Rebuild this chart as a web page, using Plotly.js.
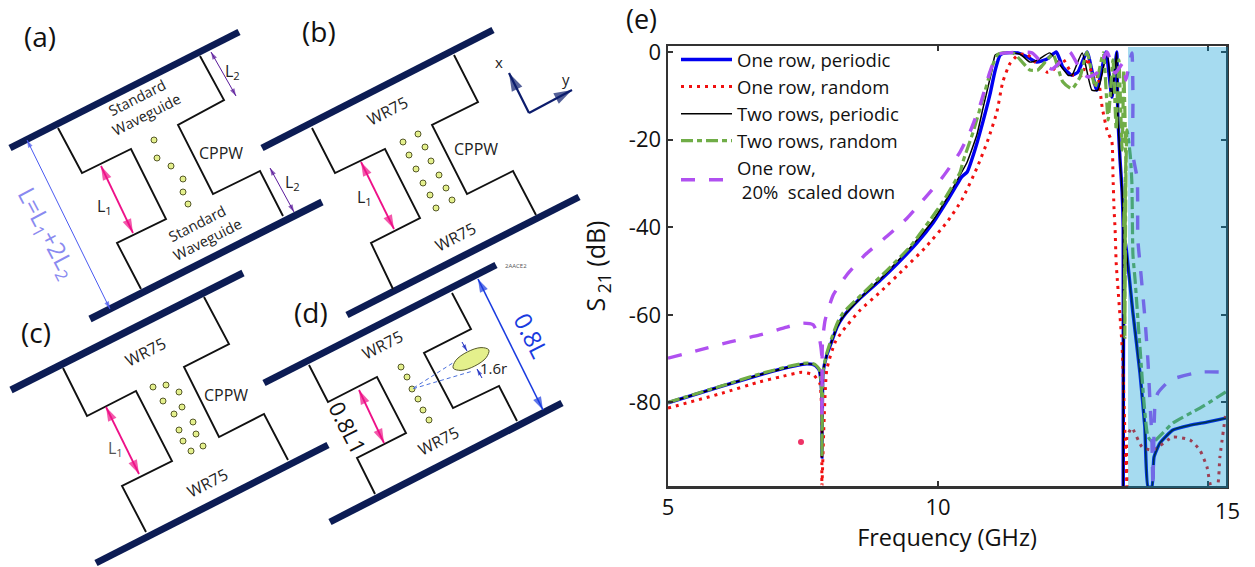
<!DOCTYPE html>
<html>
<head>
<meta charset="utf-8">
<script src="https://cdn.plot.ly/plotly-3.0.1.min.js"></script>
<style>html,body{margin:0;padding:0;background:#fff;overflow:hidden}</style>
</head>
<body>
<div id="chart" style="width:1255px;height:567px"></div>
<script>
// ---------- S21 curves (frequency in GHz, S21 in dB) ----------
const seriesNames = ["One row, periodic","One row, random","Two rows, periodic","Two rows, random","One row,<br> 20%  scaled down"];

const blueF = [5,6,6.70,7.26,7.57,7.72,7.80,7.83,7.85,7.85,7.86,7.87,7.94,8.04,8.13,8.24,8.56,8.93,9.24,9.61,9.91,10.17,10.44,10.54,10.69,10.83,10.96,11.06,11.15,11.24,11.48,11.65,11.83,12.02,12.19,12.31,12.48,12.59,12.76,12.94,13.11,13.22,13.31,13.33,13.37,13.41,13.43,13.43,13.46,13.61,13.74,13.83,13.89,13.96,14.00,14.11,14.35,14.67,14.98,15.33];
const blueDb = [-80.1,-76.3,-73.7,-71.9,-71.2,-71.5,-72.6,-74.9,-79.5,-92.5,-79.5,-73.3,-69.2,-65.8,-62.8,-60.5,-56.2,-52.1,-48.4,-43.6,-39.0,-34.0,-28.5,-27.4,-22.1,-16.0,-9.8,-4.1,-0.7,-0.2,-0.2,-1.1,-2.3,-1.6,0,-3.4,-5.3,-4.6,0,-8.7,0,-10.3,0,-14.4,-24.4,-32.0,-40.4,-99.3,-42.9,-59.6,-73.3,-85.6,-99.3,-99.3,-92.5,-89.3,-86.3,-85.2,-84.5,-83.6];

const redF = [5,6,6.7,7.07,7.48,7.69,7.81,7.85,7.85,7.94,8.09,8.22,8.56,8.93,9.39,9.76,10.17,10.44,10.72,10.93,11.09,11.2,11.33,11.48,11.65,11.8,12.02,12.13,12.31,12.5,12.67,12.76,12.91,12.96,13.04,13.13,13.22,13.24,13.26,13.28,13.3,13.41,13.46,13.5,13.5,13.59,13.78,13.98,14.35,14.67,14.85,14.98,15.06,15.17,15.22,15.33];
const redDb = [-81.3,-77.9,-75.3,-74.2,-73.1,-73.7,-75.6,-84,-99.1,-72.6,-66.4,-63.9,-58.9,-54.8,-49.3,-44.7,-38.8,-33.8,-26.5,-19.9,-13.7,-6.8,-2.7,-0.7,-0.5,-2.3,-4.6,-4.1,-1.6,-5.3,-5.3,-1.4,-7.5,-5.3,-12.6,-17.8,-20.5,-28.1,-35.8,-40.6,-48.2,-67.4,-86.3,-99.3,-87.9,-85.8,-90.2,-90.9,-87.9,-88.6,-90.9,-94.7,-99.3,-99.3,-92.5,-82.4];

const blackF = [5,6,6.70,7.26,7.57,7.72,7.80,7.83,7.85,7.85,7.86,7.87,7.94,8.04,8.13,8.24,8.56,8.93,9.24,9.61,9.91,10.17,10.44,10.54,10.72,10.83,11.0,11.06,11.2,11.52,11.7,11.85,12.07,12.26,12.41,12.48,12.67,12.85,12.96,13.13,13.22,13.31,13.33,13.37,13.41,13.43,13.43,13.46,13.61,13.74,13.83,13.89,13.96,14.00,14.11,14.35,14.67,14.98,15.33];
const blackDb = [-80.1,-76.3,-73.7,-71.9,-71.2,-71.5,-72.6,-74.9,-79.5,-92.5,-79.5,-73.3,-69.2,-65.8,-62.8,-60.5,-56.2,-51.9,-47.9,-42.9,-38.4,-33.3,-27.4,-25.1,-18.9,-13,-4.1,-0.7,-0.2,-0.5,-2.3,-1.8,-0.2,-3,-5.3,-5.3,-0.2,-8.7,-8.7,0,-10.3,0,-14.4,-24.4,-32.0,-40.4,-99.3,-42.9,-59.6,-73.3,-85.6,-99.3,-99.3,-92.5,-89.3,-86.3,-85.2,-84.5,-83.6];

const greenF = [5,6,6.70,7.26,7.57,7.72,7.80,7.83,7.85,7.85,7.86,7.87,7.94,8.04,8.13,8.24,9.06,9.48,9.85,10.09,10.41,10.46,10.65,10.83,11.0,11.11,11.39,11.56,11.7,11.85,12.02,12.13,12.31,12.48,12.63,12.76,12.91,13.06,13.15,13.24,13.3,13.35,13.41,13.44,13.48,13.44,13.48,13.45,13.47,13.46,13.5,13.56,13.59,13.61,13.65,13.74,13.89,13.98,14.35,14.85,15.33];
const greenDb = [-80,-76.2,-73.5,-71.7,-71,-71.3,-72.4,-74.7,-79.5,-92.5,-79.5,-73,-68.8,-65,-62,-59.6,-49.8,-44.5,-38.4,-34.2,-27.4,-25.1,-18.3,-10.7,-3.4,-0.5,-0.2,-2.3,-4.1,-4.1,-1.8,-0.5,-6.8,-8.4,-5.7,0,-8,-0.2,-15.5,-1.8,-17.8,-1.8,-22.4,-4.1,-29.2,-40,-25,-60,-30,-65.1,-17.8,-23.5,-29.7,-46.3,-52.1,-67.4,-87.9,-89,-84.7,-81.3,-77.6];

const purpleF = [5,5.59,6.15,6.70,7.20,7.5,7.69,7.81,7.85,7.85,7.86,7.91,8.06,8.31,8.65,9.06,9.43,9.76,10.09,10.41,10.59,10.78,10.96,11.09,11.24,11.74,11.94,12.11,12.26,12.44,12.67,12.78,12.94,13.13,13.28,13.43,13.48,13.59,13.61,13.61,13.69,13.7,13.74,13.83,13.89,13.93,13.96,13.98,14.02,14.07,14.3,14.85,15.33];
const purpleDb = [-69.9,-68,-66.2,-64.6,-62.8,-61.9,-62.3,-65.8,-69.6,-84,-66.4,-61.2,-55.5,-50.9,-46.3,-42.0,-37.9,-33.3,-28.5,-22.8,-18.3,-12.1,-4.6,-0.7,-0.2,-0.2,-2.7,-3.9,-2.3,0,-4.8,-5.7,-4.8,0,-4.8,-2.5,-6.4,-0.2,-10.3,-23.5,-29,-42.7,-48.2,-60.5,-71,-81,-87.9,-99.3,-80.1,-77.9,-74.9,-73.1,-73.1];

const yTickVals = [0,-20,-40,-60,-80];
const yTickText = ["0","-20","-40","-60","-80"];
const xTickVals = [5,10,15];
const xTickText = ["5","10",""];

// ---------- schematic panels (a)-(d), drawn on a hidden page-sized axis pair ----------
const barsX = [10,239,null,90,322,null, 262,493,null,347,579,null, 11,243,null,96,328,null, 264,496,null,330,562];
const barsY = [148,32,null,319,202,null, 148,30,null,315,197,null, 390,273,null,563,445,null, 383,265,null,522,403];

const wallsX = [200,224,178,213,260,283,null,58,82,131,166,117,141,null,
                454,478,432,467,513,536,null,312,335,385,420,371,393,null,
                204,229,184,219,264,288,null,63,87,136,172,122,146,null,
                452,471,424,453,499,517,null,309,328,377,406,357,375];
const wallsY = [56,100,125,194,171,216,null,128,173,149,219,243,289,null,
                55,102,125,194,171,215,null,128,173,149,218,243,289,null,
                297,344,367,437,414,460,null,368,416,391,461,486,532,null,
                293,329,353,408,386,421,null,365,402,377,433,458,494];

const postsX = [154,157,171,183,183,188,
                403,418,409,425,416,431,423,439,430,446,436,452,
                153,166,179,163,182,174,193,179,196,183,203,191,
                401,407,412,418,423,429];
const postsY = [140,158,166,179,192,204,
                142,134,155,147,169,161,183,175,195,188,208,200,
                387,385,392,401,407,414,422,430,434,441,446,451,
                367,377,389,399,410,420];

const ellipseX = [488.8,486.2,474.6,461,453.2,455.8,467.4,481,488.8];
const ellipseY = [349.9,357.6,366.1,370.4,368.1,360.4,351.9,347.6,349.9];

const beamX = [470,412,473];
const beamY = [352,389,371];

const strayDotX = [801];
const strayDotY = [442];

// arrows: from x0,y0 to x1,y1
const pinkArrows  = [[101,166,133,233],[361,162,394,229],[106,407,139,474],[359,390,384,443]];
const violetArrows= [[211,52,236,96],[270,168,294,212]];
const thinBlueArrows = [[27,140,110,309]];
const blueArrows  = [[478,279,543,410]];
const smallArrows = [[462,342,467,351],[482,378,477,369]];
const axisArrows  = [[529,113,509,73],[529,113,572,90]];

// labels: text, x, y, angle, size, colour
const labels = [
 ["(a)",40,36,0,28,"#111"],["(b)",319,31,0,28,"#111"],["(c)",36,332,0,28,"#111"],["(d)",311,312,0,28,"#111"],["(e)",641,18,0,27,"#111"],
 ["Standard",137,97,-27,14.5,"#222"],["Waveguide",146,114,-27,14.5,"#222"],["Standard",197,223,-27,14.5,"#222"],["Waveguide",207,239,-27,14.5,"#222"],
 ["L<sub>2</sub>",232,71,0,16,"#222"],["L<sub>2</sub>",292,182,0,16,"#222"],["L<sub>1</sub>",104,206,0,16,"#222"],["CPPW",221,153,0,16,"#222"],
 ["L=L<sub>1</sub>+2L<sub>2</sub>",47,233,62,24,"#8a8af0"],
 ["WR75",387,111,-27,16,"#222"],["WR75",455,237,-27,16,"#222"],["CPPW",476,149,0,16,"#222"],["L<sub>1</sub>",364,197,0,16,"#222"],
 ["x",499,62,0,15,"#222"],["y",566,79,0,15,"#222"],["2AACE2",516,266,0,6,"#555"],
 ["WR75",145,352,-27,16,"#222"],["WR75",207,483,-27,16,"#222"],["CPPW",226,395,0,16,"#222"],["L<sub>1</sub>",115,448,0,16,"#555"],
 ["WR75",382,345,-27,16,"#222"],["WR75",438,441,-27,16,"#222"],["1.6r",493,368,0,15,"#222"],
 ["0.8L",532,335,63,24,"#1a3be0"],["0.8L1",348,427,63,22,"#111"],
 ["15",1227,510,0,22,"#111"]
];

// ---------- build ----------
const W = 1255, H = 567, L = 668, R = 1226, T = 46, B = 486;
const curveStyles = [
  {color:"#0000f0",width:3.4},
  {color:"#f01010",width:3,dash:"3px,5px"},
  {color:"#000000",width:1.5},
  {color:"#70ad47",width:3.2,dash:"12px,4px,5px,4px"},
  {color:"#b050f0",width:3.4,dash:"14px,14px"}
];
const curveData = [[blueF,blueDb],[redF,redDb],[blackF,blackDb],[greenF,greenDb],[purpleF,purpleDb]];
const traces = curveData.map((d,i)=>({
  x:d[0],y:d[1],name:seriesNames[i],type:"scatter",mode:"lines",
  line:Object.assign({shape:"spline",smoothing:0.5},curveStyles[i]),xaxis:"x",yaxis:"y",cliponaxis:true,hoverinfo:"skip"
}));
const over = {xaxis:"x2",yaxis:"y2",type:"scatter",showlegend:false,hoverinfo:"skip"};
traces.push(Object.assign({},over,{x:barsX,y:barsY,mode:"lines",line:{color:"#0c1c54",width:7}}));
traces.push(Object.assign({},over,{x:wallsX,y:wallsY,mode:"lines",line:{color:"#111",width:1.9}}));
traces.push(Object.assign({},over,{x:postsX,y:postsY,mode:"markers",marker:{size:6,color:"#e4f08c",line:{color:"#55582a",width:1}}}));
traces.push(Object.assign({},over,{x:beamX,y:beamY,mode:"lines",line:{color:"#4a6fdc",width:1,dash:"4px,3px"}}));
traces.push(Object.assign({},over,{x:ellipseX,y:ellipseY,mode:"lines",fill:"toself",fillcolor:"#e4f08c",line:{color:"#55582a",width:1,shape:"spline",smoothing:1}}));
traces.push(Object.assign({},over,{x:strayDotX,y:strayDotY,mode:"markers",marker:{size:6,color:"#ee3366"}}));

function addArrow(a,color,width,head,both){
  const dx=a[2]-a[0], dy=a[3]-a[1];
  const fwd=Math.atan2(dx,-dy)*180/Math.PI;
  traces.push(Object.assign({},over,{x:[a[0],a[2]],y:[a[1],a[3]],mode:"lines+markers",
    line:{color:color,width:width},
    marker:{symbol:"arrow",size:[both?head:0,head],angle:[fwd+180,fwd],color:color,line:{width:0}}}));
}
pinkArrows.forEach(a=>addArrow(a,"#ee1188",1.8,15,true));
violetArrows.forEach(a=>addArrow(a,"#5a1a9a",1,8,true));
thinBlueArrows.forEach(a=>addArrow(a,"#4a5af0",1,8,true));
blueArrows.forEach(a=>addArrow(a,"#1a3be0",1.6,14,true));
smallArrows.forEach(a=>addArrow(a,"#1a2bc0",1,7,false));
axisArrows.forEach(a=>addArrow(a,"#0c1c6c",2.2,19,false));

const annotations = labels.map(t=>({xref:"x2",yref:"y2",x:t[1],y:t[2],text:t[0],textangle:t[3],showarrow:false,
  xanchor:"center",yanchor:"middle",font:{family:"Open Sans",size:t[4],color:t[5]}}));

const layout = {
  width:W,height:H,autosize:false,margin:{l:0,r:0,t:0,b:0,pad:0},
  paper_bgcolor:"#fff",plot_bgcolor:"rgba(0,0,0,0)",
  font:{family:"Open Sans",color:"#111"},
  xaxis:{domain:[L/W,R/W],range:[5,5+(R-L)/54],anchor:"y",tickmode:"array",tickvals:xTickVals,ticktext:xTickText,
    ticks:"inside",ticklen:5,tickwidth:2,tickcolor:"#333",showline:true,linecolor:"#333",linewidth:2.5,mirror:"allticks",
    showgrid:false,zeroline:false,tickfont:{family:"Open Sans",size:22,color:"#111"},
    title:{text:"Frequency (GHz)",font:{family:"Open Sans",size:23.5,color:"#111"},standoff:4}},
  yaxis:{domain:[1-B/H,1-T/H],range:[(52-B)/4.38,(52-T)/4.38],anchor:"x",tickmode:"array",tickvals:yTickVals,ticktext:yTickText,
    ticks:"inside",ticklen:5,tickwidth:2,tickcolor:"#333",showline:true,linecolor:"#333",linewidth:2.5,mirror:"allticks",
    showgrid:false,zeroline:false,tickfont:{family:"Open Sans",size:22,color:"#111"},
    title:{text:"S<sub> 21</sub> (dB)",font:{family:"Open Sans",size:25,color:"#111"},standoff:16}},
  xaxis2:{domain:[0,1],range:[0,W],anchor:"y2",visible:false,fixedrange:true},
  yaxis2:{domain:[0,1],range:[H,0],anchor:"x2",visible:false,fixedrange:true},
  legend:{x:676/W,y:1-41/H,xref:"paper",yref:"paper",xanchor:"left",yanchor:"top",bgcolor:"rgba(0,0,0,0)",borderwidth:0,
    itemwidth:51,font:{family:"Open Sans",size:18.5,color:"#111"},traceorder:"normal"},
  shapes:[{type:"rect",xref:"x2",yref:"y2",x0:1128,x1:1228,y0:47,y1:488,fillcolor:"rgba(0,152,212,0.35)",line:{width:0},layer:"above"}],
  annotations:annotations
};
Plotly.newPlot("chart",traces,layout,{displayModeBar:false,staticPlot:true});
</script>
</body>
</html>
